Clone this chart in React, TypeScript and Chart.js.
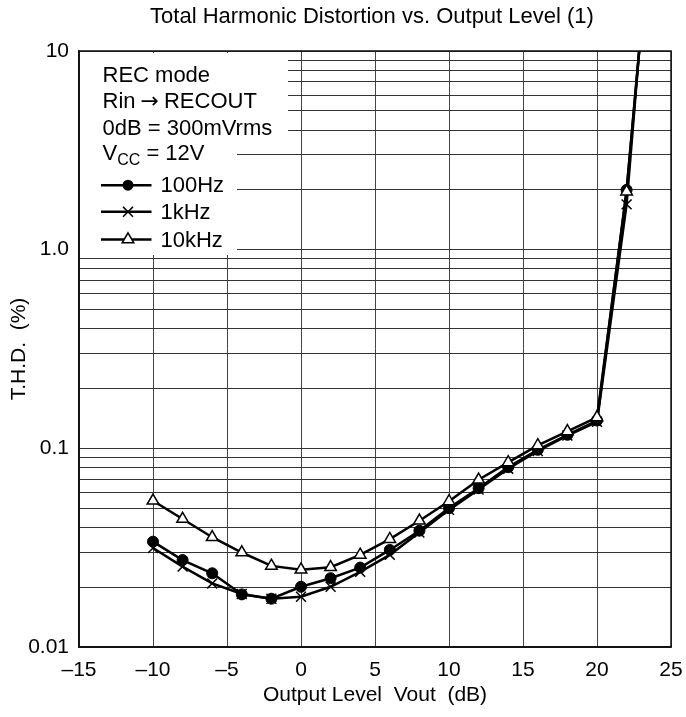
import React, { useEffect, useRef } from "react";
import { Chart, registerables } from "chart.js";

Chart.register(...registerables);

// ---- Data ----
const outputLevels = [-10, -8, -6, -4, -2, 0, 2, 4, 6, 8, 10, 12, 14, 16, 18, 20, 22, 22.85];
const thd100Hz = [0.0339, 0.0274, 0.0235, 0.0184, 0.0175, 0.0201, 0.0222, 0.0251, 0.0308, 0.0385, 0.05, 0.063, 0.0804, 0.0983, 0.117, 0.138, 2.0, 10];
const thd1kHz = [0.0315, 0.0254, 0.0209, 0.0185, 0.0175, 0.0179, 0.0201, 0.0239, 0.0291, 0.0377, 0.049, 0.062, 0.079, 0.097, 0.116, 0.136, 1.69, 10];
const thd10kHz = [0.0545, 0.0441, 0.0357, 0.0299, 0.0256, 0.0245, 0.0252, 0.0291, 0.0349, 0.0432, 0.0541, 0.0695, 0.085, 0.1035, 0.1218, 0.1433, 1.96, 10];

const xTicks = [-15, -10, -5, 0, 5, 10, 15, 20, 25];
const yDecades = [0.01, 0.1, 1];
const yMultipliers = [1, 2, 3, 4, 5, 6, 7, 8, 9];
const yMajorTicks = [0.01, 0.1, 1, 10];
const yTickLabels = ["0.01", "0.1", "1.0", "10"];

const chartTitle = "Total Harmonic Distortion vs. Output Level (1)";
const xTitle = "Output Level  Vout  (dB)";
const yTitle = "T.H.D.  (%)";
const legendNotes = ["REC mode", "Rin", "0dB = 300mVrms"];
const seriesNames = ["100Hz", "1kHz", "10kHz"];

const FONT = '"Liberation Sans", Arial, Helvetica, sans-serif';
const LEGEND_SIZE = 22;

const yGridValues: number[] = [];
yDecades.forEach((d) => yMultipliers.forEach((m) => yGridValues.push(Number((d * m).toPrecision(3)))));
yGridValues.push(10);

function drawCircle(ctx: CanvasRenderingContext2D, x: number, y: number, r: number) {
  ctx.beginPath();
  ctx.arc(x, y, r, 0, Math.PI * 2);
  ctx.fillStyle = "#000";
  ctx.fill();
}
function drawCross(ctx: CanvasRenderingContext2D, x: number, y: number, r: number) {
  const d = r * Math.SQRT1_2;
  ctx.beginPath();
  ctx.moveTo(x - d, y - d);
  ctx.lineTo(x + d, y + d);
  ctx.moveTo(x - d, y + d);
  ctx.lineTo(x + d, y - d);
  ctx.lineWidth = 1.5;
  ctx.strokeStyle = "#000";
  ctx.stroke();
}
function drawTriangle(ctx: CanvasRenderingContext2D, x: number, y: number, r: number) {
  ctx.beginPath();
  for (let i = 0; i < 3; i++) {
    const a = (i * 2 * Math.PI) / 3;
    const px = x + Math.sin(a) * r;
    const py = y - Math.cos(a) * r;
    if (i === 0) ctx.moveTo(px, py);
    else ctx.lineTo(px, py);
  }
  ctx.closePath();
  ctx.fillStyle = "#fff";
  ctx.fill();
  ctx.lineWidth = 1.5;
  ctx.strokeStyle = "#000";
  ctx.stroke();
}

const overlayPlugin = {
  id: "overlay",
  beforeDatasetsDraw(chart: any) {
    const { ctx, chartArea } = chart;
    const L = chartArea.left;
    const T = chartArea.top;
    ctx.save();
    // white legend panel
    ctx.fillStyle = "#fff";
    ctx.fillRect(L + 1, T + 2, 208, 89);
    ctx.fillRect(L + 1, T + 90, 157, 114);
    // notes
    ctx.fillStyle = "#000";
    ctx.textAlign = "left";
    ctx.textBaseline = "alphabetic";
    const mainFont = `${LEGEND_SIZE}px ${FONT}`;
    ctx.font = mainFont;
    const tx = L + 23.5;
    legendNotes.forEach((t, i) => {
      ctx.fillText(t, tx, T + 31.2 + i * 26.2);
    });
    // arrow + RECOUT on second line
    {
      const y2 = T + 31.2 + 26.2;
      let ax = tx + ctx.measureText("Rin").width + 5;
      ctx.font = `22px "DejaVu Sans", sans-serif`;
      ctx.fillText("\u2192", ax, y2);
      ax += ctx.measureText("\u2192").width + 5;
      ctx.font = mainFont;
      ctx.fillText("RECOUT", ax, y2);
    }
    // V_CC = 12V
    const vy = T + 108.5;
    ctx.font = mainFont;
    ctx.fillText("V", tx, vy);
    let cx = tx + ctx.measureText("V").width;
    ctx.font = `16px ${FONT}`;
    ctx.fillText("CC", cx, vy + 5);
    cx += ctx.measureText("CC").width;
    ctx.font = mainFont;
    ctx.fillText(" = 12V", cx, vy);
    // series entries
    const lineY = [T + 134.2, T + 160.8, T + 188.5];
    const x0 = L + 22;
    const x1 = L + 72.5;
    const mx = L + 49;
    seriesNames.forEach((name, i) => {
      const y = lineY[i];
      ctx.beginPath();
      ctx.moveTo(x0, y);
      ctx.lineTo(x1, y);
      ctx.lineWidth = 2.5;
      ctx.strokeStyle = "#000";
      ctx.stroke();
      if (i === 0) drawCircle(ctx, mx, y, 5.5);
      if (i === 1) drawCross(ctx, mx, y, 7);
      if (i === 2) drawTriangle(ctx, mx, y, 6.7);
      ctx.fillStyle = "#000";
      ctx.font = mainFont;
      ctx.fillText(name, L + 81.5, y + 7);
    });
    ctx.restore();
  },
  afterDraw(chart: any) {
    const { ctx, chartArea } = chart;
    ctx.save();
    ctx.strokeStyle = "#111";
    ctx.lineWidth = 1.5;
    ctx.strokeRect(chartArea.left, chartArea.top, chartArea.right - chartArea.left, chartArea.bottom - chartArea.top);
    ctx.fillStyle = "#000";
    ctx.font = `22px ${FONT}`;
    ctx.textAlign = "center";
    ctx.textBaseline = "middle";
    ctx.fillText(chartTitle, (chartArea.left + chartArea.right) / 2 - 3, 17);
    ctx.restore();
  },
};

export default function App() {
  const canvasRef = useRef<HTMLCanvasElement | null>(null);

  useEffect(() => {
    document.body.style.margin = "0";
    const canvas = canvasRef.current;
    if (!canvas) return;
    const toPoints = (ys: number[]) => outputLevels.map((x, i) => ({ x, y: ys[i] }));
    const lastIdx = outputLevels.length - 1;
    const radius = (r: number) => (c: any) => (c.dataIndex === lastIdx ? 0 : r);

    const tickFont = { family: FONT, size: 21 };

    const chart = new Chart(canvas, {
      type: "line",
      data: {
        datasets: [
          {
            label: seriesNames[0],
            data: toPoints(thd100Hz),
            borderColor: "#000",
            backgroundColor: "#000",
            borderWidth: 2.5,
            pointStyle: "circle",
            pointRadius: radius(5.5),
            pointBorderWidth: 1,
            pointBackgroundColor: "#000",
            pointBorderColor: "#000",
            order: 1,
          },
          {
            label: seriesNames[1],
            data: toPoints(thd1kHz),
            borderColor: "#000",
            backgroundColor: "#000",
            borderWidth: 2.5,
            pointStyle: "crossRot",
            pointRadius: radius(7),
            pointBorderWidth: 1.5,
            pointBorderColor: "#000",
            order: 2,
          },
          {
            label: seriesNames[2],
            data: toPoints(thd10kHz),
            borderColor: "#000",
            backgroundColor: "#fff",
            borderWidth: 2.5,
            pointStyle: "triangle",
            pointRadius: radius(6.7),
            pointBorderWidth: 1.5,
            pointBackgroundColor: "#fff",
            pointBorderColor: "#000",
            order: 0,
          },
        ],
      },
      options: {
        responsive: false,
        animation: false,
        devicePixelRatio: 1,
        events: [],
        layout: { padding: { top: 51, right: 15, left: 0, bottom: 0 } },
        plugins: {
          legend: { display: false },
          title: { display: false },
          tooltip: { enabled: false },
        },
        elements: { line: { tension: 0 } },
        scales: {
          x: {
            type: "linear",
            min: -15,
            max: 25,
            afterBuildTicks: (scale: any) => {
              scale.ticks = xTicks.map((v) => ({ value: v }));
            },
            afterFit: (scale: any) => {
              scale.height = 70;
              scale.paddingLeft = 0;
              scale.paddingRight = 0;
            },
            grid: { color: "#444", lineWidth: 1, drawTicks: false },
            border: { display: true, color: "#111", width: 1.5 },
            ticks: {
              autoSkip: false,
              maxRotation: 0,
              padding: 11,
              color: "#000",
              font: tickFont,
              callback: (v: any) => (Number(v) < 0 ? "\u2013" + Math.abs(Number(v)) : String(v)),
            },
            title: {
              display: true,
              text: xTitle,
              color: "#000",
              font: tickFont,
              padding: { top: 0, bottom: 9 },
            },
          },
          y: {
            type: "logarithmic",
            min: 0.01,
            max: 10,
            afterBuildTicks: (scale: any) => {
              scale.ticks = yGridValues.map((v) => ({ value: v }));
            },
            afterFit: (scale: any) => {
              scale.width = 79;
              scale.paddingTop = 0;
              scale.paddingBottom = 0;
            },
            grid: { color: "#333", lineWidth: 1, drawTicks: false },
            border: { display: true, color: "#111", width: 1.5 },
            ticks: {
              autoSkip: false,
              padding: 10,
              color: "#000",
              font: tickFont,
              callback: (v: any) => {
                const i = yMajorTicks.findIndex((t) => Math.abs(t - Number(v)) < 1e-9);
                return i >= 0 ? yTickLabels[i] : "";
              },
            },
            title: {
              display: true,
              text: yTitle,
              color: "#000",
              font: tickFont,
              padding: { top: 7, bottom: 0 },
            },
          },
        },
      } as any,
      plugins: [overlayPlugin],
    });
    return () => chart.destroy();
  }, []);

  return (
    <canvas
      ref={canvasRef}
      width={686}
      height={717}
      style={{ display: "block", width: "686px", height: "717px" }}
    />
  );
}
